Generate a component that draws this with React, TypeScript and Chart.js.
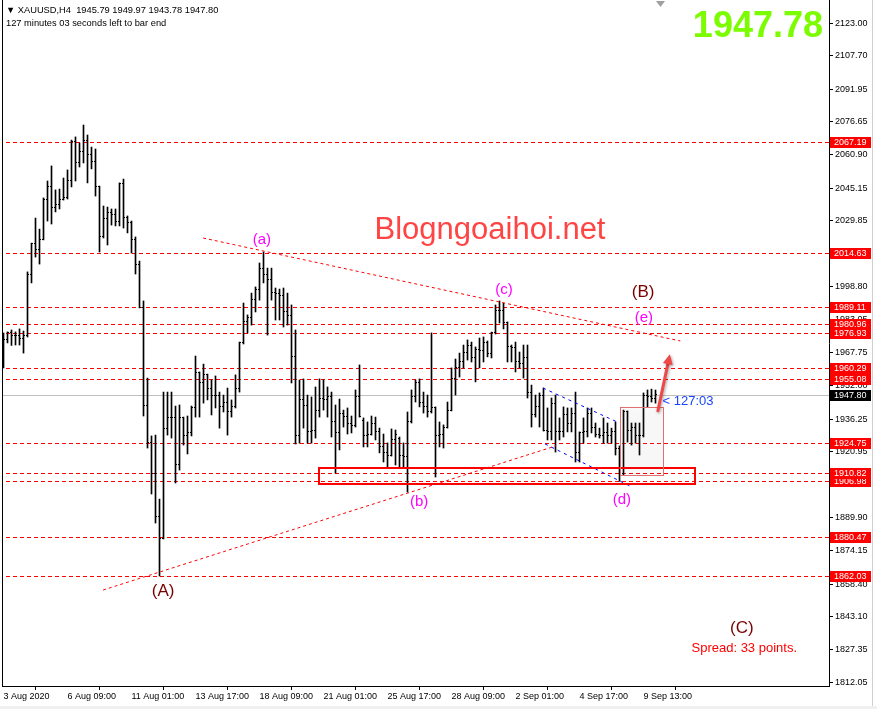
import React, { useEffect, useRef } from 'react';
import { Chart, registerables } from 'chart.js';

Chart.register(...registerables);

// ---- H4 bars (XAUUSD) ----
const opens = [
  1971.2, 1973.6, 1976.9, 1975.9, 1975.5, 1974.5, 1975.9, 2004.7, 2018.9, 2016.5,
  2021.2, 2040.1, 2045.8, 2036.3, 2037.3, 2040.1, 2041.0, 2048.6, 2067.0, 2057.1,
  2062.3, 2067.5, 2060.9, 2057.6, 2045.8, 2022.2, 2031.1, 2033.5, 2032.6, 2029.7,
  2047.2, 2031.6, 2029.2, 2021.2, 2009.0, 1989.1, 1942.9, 1925.0, 1910.8, 1890.1,
  1880.1, 1932.0, 1937.2, 1936.8, 1914.6, 1936.8, 1928.7, 1929.7, 1941.5, 1958.0,
  1953.3, 1957.1, 1950.9, 1947.6, 1947.6, 1942.0, 1944.3, 1939.6, 1942.0, 1950.9,
  1972.2, 1982.1, 1984.4, 1992.9, 1997.6, 2007.1, 2004.7, 2001.9, 1996.2, 1995.7,
  1994.8, 1986.8, 1984.9, 1965.6, 1928.3, 1945.3, 1942.9, 1930.2, 1931.1, 1940.1,
  1946.2, 1945.3, 1946.7, 1934.9, 1929.7, 1938.7, 1937.7, 1934.4, 1933.0, 1947.1,
  1935.4, 1928.7, 1929.2, 1934.4, 1930.2, 1923.1, 1920.7, 1919.3, 1926.4, 1927.3,
  1919.3, 1918.8, 1934.9, 1946.7, 1953.3, 1944.3, 1942.0, 1939.6, 1941.5, 1928.7,
  1929.2, 1932.5, 1940.5, 1955.6, 1960.4, 1963.2, 1967.9, 1971.2, 1965.1, 1968.9,
  1968.4, 1972.6, 1967.4, 1976.9, 1987.7, 1987.3, 1981.6, 1970.3, 1969.8, 1963.2,
  1962.7, 1965.1, 1948.6, 1938.2, 1942.0, 1947.6, 1931.1, 1930.2, 1943.8, 1930.2,
  1930.6, 1938.2, 1934.4, 1939.1, 1920.3, 1929.7, 1930.2, 1939.1, 1932.5, 1929.2,
  1928.7, 1929.7, 1928.7, 1930.2, 1922.6, 1910.8, 1939.6, 1931.1, 1932.5, 1928.3,
  1928.7, 1947.6, 1946.7, 1945.79,
];
const highs = [
  1976.9, 1977.4, 1978.3, 1977.4, 1978.8, 1977.8, 2005.7, 2019.3, 2031.1, 2025.9,
  2040.6, 2048.6, 2055.7, 2044.4, 2044.8, 2050.0, 2053.8, 2067.9, 2069.4, 2066.5,
  2075.0, 2070.3, 2064.6, 2063.7, 2046.2, 2036.8, 2036.3, 2035.4, 2035.4, 2047.7,
  2049.5, 2032.1, 2029.7, 2022.2, 2010.8, 1992.0, 1955.6, 1928.3, 1928.7, 1898.5,
  1949.0, 1949.0, 1949.0, 1942.4, 1942.9, 1937.2, 1937.7, 1942.4, 1966.0, 1958.5,
  1962.2, 1957.5, 1954.7, 1956.6, 1949.0, 1947.6, 1950.9, 1945.3, 1957.1, 1972.6,
  1991.0, 1985.4, 1995.7, 1998.6, 2009.9, 2015.1, 2007.5, 2007.5, 1998.1, 1997.6,
  1998.1, 1995.7, 1990.1, 1978.3, 1954.7, 1955.2, 1947.6, 1946.7, 1951.4, 1955.2,
  1954.7, 1951.4, 1949.0, 1942.9, 1945.7, 1940.5, 1941.5, 1937.7, 1950.0, 1961.8,
  1936.8, 1934.9, 1937.7, 1937.2, 1932.0, 1929.2, 1925.0, 1931.6, 1931.1, 1927.8,
  1925.0, 1939.6, 1950.0, 1954.7, 1955.2, 1949.0, 1947.6, 1976.9, 1942.0, 1934.9,
  1933.5, 1944.3, 1960.4, 1964.6, 1967.4, 1971.2, 1973.6, 1972.6, 1970.3, 1974.5,
  1975.0, 1973.1, 1977.3, 1990.1, 1992.0, 1991.0, 1982.1, 1971.2, 1972.6, 1967.9,
  1971.2, 1971.2, 1952.3, 1947.6, 1948.6, 1950.9, 1941.5, 1946.2, 1947.6, 1936.8,
  1942.0, 1941.5, 1941.5, 1949.0, 1930.2, 1936.8, 1941.5, 1941.5, 1934.4, 1932.0,
  1936.8, 1934.4, 1932.0, 1934.9, 1923.6, 1940.5, 1940.1, 1934.4, 1934.4, 1934.4,
  1948.6, 1950.0, 1950.4, 1949.97,
];
const lows = [
  1960.4, 1972.2, 1971.0, 1971.2, 1971.2, 1967.4, 1975.0, 2000.5, 2012.7, 2009.4,
  2020.8, 2029.7, 2028.3, 2034.0, 2035.4, 2039.6, 2040.1, 2045.8, 2048.6, 2055.2,
  2057.1, 2047.7, 2054.3, 2041.5, 2015.1, 2021.7, 2018.4, 2027.8, 2027.4, 2027.4,
  2026.4, 2024.1, 2014.6, 2004.7, 1988.7, 1937.7, 1922.6, 1900.9, 1887.2, 1862.2,
  1879.7, 1928.7, 1927.3, 1906.1, 1912.2, 1924.0, 1919.8, 1928.3, 1937.2, 1937.2,
  1943.8, 1945.3, 1938.2, 1941.5, 1932.0, 1939.6, 1928.7, 1937.2, 1941.5, 1949.0,
  1971.7, 1976.9, 1980.6, 1986.8, 1992.4, 2000.5, 1975.9, 1992.4, 1983.0, 1983.0,
  1979.7, 1980.6, 1953.3, 1924.5, 1924.9, 1932.0, 1924.9, 1924.9, 1927.3, 1937.2,
  1940.5, 1937.2, 1927.8, 1910.8, 1921.7, 1932.5, 1929.2, 1929.7, 1932.5, 1937.2,
  1923.1, 1923.1, 1928.7, 1926.4, 1920.3, 1916.0, 1913.6, 1918.8, 1914.6, 1913.6,
  1913.6, 1901.8, 1934.4, 1944.3, 1942.0, 1939.1, 1937.2, 1939.1, 1908.9, 1923.1,
  1922.6, 1932.0, 1940.1, 1947.6, 1956.1, 1960.4, 1964.1, 1963.2, 1953.8, 1960.4,
  1963.2, 1965.6, 1965.1, 1976.4, 1981.6, 1978.8, 1963.2, 1963.2, 1958.5, 1960.4,
  1955.6, 1946.2, 1932.5, 1937.2, 1932.5, 1930.6, 1926.4, 1926.4, 1920.7, 1926.4,
  1927.8, 1930.2, 1930.2, 1916.0, 1916.0, 1924.9, 1927.8, 1929.7, 1927.8, 1927.3,
  1924.9, 1924.9, 1924.9, 1919.3, 1906.9, 1909.9, 1925.4, 1924.0, 1924.9, 1919.3,
  1927.8, 1942.0, 1944.3, 1943.78,
];
const closes = [
  1973.6, 1976.9, 1975.9, 1975.5, 1974.5, 1975.9, 2004.7, 2018.9, 2016.5, 2021.2,
  2040.1, 2046.2, 2036.3, 2037.3, 2040.1, 2041.0, 2048.6, 2067.0, 2057.1, 2062.3,
  2067.5, 2060.9, 2057.6, 2045.8, 2022.2, 2031.1, 2033.5, 2032.6, 2029.7, 2047.2,
  2031.6, 2029.2, 2021.2, 2009.0, 1989.1, 1942.9, 1925.0, 1910.8, 1890.1, 1880.1,
  1932.0, 1937.2, 1936.8, 1914.6, 1936.8, 1928.7, 1929.7, 1941.5, 1958.0, 1953.3,
  1957.1, 1950.9, 1947.6, 1947.2, 1942.0, 1944.3, 1939.6, 1942.0, 1950.9, 1972.2,
  1982.1, 1984.4, 1992.9, 1997.6, 2007.1, 2004.7, 2001.9, 1996.2, 1995.7, 1994.8,
  1986.8, 1984.9, 1965.6, 1928.3, 1945.3, 1942.9, 1930.2, 1931.1, 1940.1, 1946.2,
  1945.3, 1946.7, 1934.9, 1929.7, 1938.7, 1937.7, 1934.4, 1933.0, 1947.1, 1937.7,
  1928.7, 1929.2, 1934.4, 1930.2, 1923.1, 1920.7, 1919.3, 1926.4, 1929.2, 1919.3,
  1918.8, 1934.9, 1946.7, 1953.3, 1944.3, 1942.0, 1939.6, 1941.5, 1928.7, 1929.2,
  1932.5, 1940.5, 1955.6, 1960.4, 1963.2, 1967.9, 1971.2, 1965.1, 1968.9, 1968.4,
  1972.6, 1967.4, 1976.9, 1987.7, 1987.3, 1981.6, 1970.3, 1969.8, 1963.2, 1962.7,
  1965.1, 1948.6, 1938.2, 1942.0, 1947.6, 1931.1, 1930.2, 1943.8, 1930.2, 1930.6,
  1938.2, 1934.4, 1939.1, 1920.3, 1929.7, 1930.2, 1939.1, 1932.5, 1929.2, 1928.7,
  1929.7, 1928.7, 1930.2, 1922.6, 1910.8, 1939.6, 1931.1, 1932.5, 1928.3, 1928.7,
  1947.6, 1946.7, 1945.8, 1947.80,
];

// ---- axes ----
const xTickIndex = [0, 16, 32, 48, 64, 80, 96, 112, 128, 144, 160];
const xTickLabels = [
  '3 Aug 2020', '6 Aug 09:00', '11 Aug 01:00', '13 Aug 17:00', '18 Aug 09:00',
  '21 Aug 01:00', '25 Aug 17:00', '28 Aug 09:00', '2 Sep 01:00', '4 Sep 17:00', '9 Sep 13:00',
];
const yTickValues = [
  2123.0, 2107.7, 2091.95, 2076.65, 2060.9, 2045.15, 2029.85, 2014.1, 1998.8, 1983.05,
  1967.75, 1952.0, 1936.25, 1920.95, 1905.2, 1889.9, 1874.15, 1858.4, 1843.1, 1827.35, 1812.05,
];
const yMin = 1810.31;
const yMax = 2134.0;
const xMin = -0.375;
const xMax = 206.375;

// ---- horizontal levels ----
const levelPrices = [
  2067.19, 2014.63, 1989.11, 1980.96, 1976.93, 1960.29, 1955.08, 1924.75, 1910.82, 1906.98,
  1880.47, 1862.03,
];
const bidPrice = 1947.8;

// ---- drawn objects (bar index, price) ----
const upperTrend = [[49.9, 2021.7], [169.2, 1973.1]];
const lowerTrend = [[24.9, 1855.6], [138.1, 1923.6]];
const blueUpper = [[134.9, 1950.9], [153.4, 1934.9]];
const blueLower = [[135.4, 1924.5], [156.6, 1904.7]];
const zoneBox = [[78.9, 1913.0], [172.9, 1905.6]];
const greyBox = [[154.1, 1942.1], [164.9, 1909.9]];
const arrowPts = [[163.6, 1940.2], [166.6, 1966.8]];

const waveTexts = ['(a)', '(b)', '(c)', '(d)', '(e)', '(A)', '(B)', '(C)'];
const waveIdx = [64.6, 103.9, 125.1, 154.6, 160.1, 39.9, 159.9, 184.6];
const wavePrice = [2020.8, 1897.1, 1997.2, 1898.1, 1984.0, 1855.1, 1996.2, 1837.7];
const waveMajor = [false, false, false, false, false, true, true, true];

const FONT = '"Liberation Sans", Arial, sans-serif';

function txt(ctx: CanvasRenderingContext2D, s: string, x: number, y: number, font: string, color: string, align: CanvasTextAlign = 'left', base: CanvasTextBaseline = 'middle') {
  ctx.font = font;
  ctx.fillStyle = color;
  ctx.textAlign = align;
  ctx.textBaseline = base;
  ctx.fillText(s, x, y);
}

const mt4Plugin = {
  id: 'mt4',
  beforeDatasetsDraw(chart: any) {
    const { ctx, chartArea: a, scales } = chart;
    const ys = scales.y;
    ctx.save();
    ctx.beginPath();
    ctx.rect(a.left, a.top, a.right - a.left, a.bottom - a.top);
    ctx.clip();
    ctx.lineWidth = 1;
    ctx.strokeStyle = '#c0c0c0';
    ctx.setLineDash([]);
    const y = Math.round(ys.getPixelForValue(bidPrice)) + 0.5;
    ctx.beginPath(); ctx.moveTo(a.left, y); ctx.lineTo(a.right, y); ctx.stroke();
    ctx.strokeStyle = '#ff0000';
    ctx.setLineDash([4, 3]);
    levelPrices.forEach((p) => {
      const yy = Math.round(ys.getPixelForValue(p)) + 0.5;
      ctx.beginPath(); ctx.moveTo(a.left + 4, yy); ctx.lineTo(a.right, yy); ctx.stroke();
    });
    ctx.restore();
  },
  afterDatasetsDraw(chart: any) {
    const { ctx, chartArea: a, scales } = chart;
    const xs = scales.x, ys = scales.y;
    const P = (pt: number[]) => [xs.getPixelForValue(pt[0]), ys.getPixelForValue(pt[1])];
    ctx.save();
    ctx.beginPath();
    ctx.rect(a.left, a.top, a.right - a.left, a.bottom - a.top);
    ctx.clip();
    // open / close ticks
    ctx.fillStyle = '#000';
    for (let i = 0; i < opens.length; i++) {
      const x0 = Math.floor(xs.getPixelForValue(i));
      ctx.fillRect(x0 - 1, Math.floor(ys.getPixelForValue(opens[i])), 1, 1);
      ctx.fillRect(x0 + 1, Math.floor(ys.getPixelForValue(closes[i])), 1, 1);
    }
    // trend lines
    const seg = (pts: number[][], color: string, dash: number[]) => {
      const [x1, y1] = P(pts[0]);
      const [x2, y2] = P(pts[1]);
      ctx.strokeStyle = color;
      ctx.lineWidth = 1;
      ctx.setLineDash(dash);
      ctx.beginPath(); ctx.moveTo(x1, y1); ctx.lineTo(x2, y2); ctx.stroke();
    };
    seg(upperTrend, '#ff0000', [3, 3]);
    seg(lowerTrend, '#ff0000', [3, 3]);
    seg(blueUpper, '#0000ff', [3, 4]);
    seg(blueLower, '#0000ff', [3, 4]);
    ctx.setLineDash([]);
    // support zone
    {
      const [x1, y1] = P(zoneBox[0]);
      const [x2, y2] = P(zoneBox[1]);
      ctx.strokeStyle = '#ff0000';
      ctx.lineWidth = 2;
      ctx.strokeRect(Math.round(x1), Math.round(y1), Math.round(x2 - x1), Math.round(y2 - y1));
    }
    // grey box
    {
      const [x1, y1] = P(greyBox[0]);
      const [x2, y2] = P(greyBox[1]);
      ctx.save();
      ctx.shadowColor = 'rgba(0,0,0,0.3)';
      ctx.shadowBlur = 3;
      ctx.shadowOffsetX = 1;
      ctx.shadowOffsetY = 1;
      ctx.fillStyle = 'rgba(150,150,150,0.05)';
      ctx.fillRect(x1, y1, x2 - x1, y2 - y1);
      ctx.restore();
      ctx.strokeStyle = '#e07070';
      ctx.lineWidth = 1;
      ctx.strokeRect(Math.round(x1) + 0.5, Math.round(y1) + 0.5, Math.round(x2 - x1), Math.round(y2 - y1));
    }
    // arrow
    {
      const [x1, y1] = P(arrowPts[0]);
      const [x2, y2] = P(arrowPts[1]);
      const ang = Math.atan2(y2 - y1, x2 - x1);
      const hl = 10, hw = 5;
      const bx = x2 - hl * Math.cos(ang), by = y2 - hl * Math.sin(ang);
      ctx.save();
      ctx.shadowColor = 'rgba(0,0,0,0.35)';
      ctx.shadowBlur = 3;
      ctx.shadowOffsetX = 1;
      ctx.shadowOffsetY = 1;
      ctx.strokeStyle = '#f04848';
      ctx.fillStyle = '#f04848';
      ctx.lineWidth = 3;
      ctx.lineCap = 'round';
      ctx.beginPath(); ctx.moveTo(x1, y1); ctx.lineTo(bx, by); ctx.stroke();
      ctx.beginPath();
      ctx.moveTo(x2, y2);
      ctx.lineTo(bx + hw * Math.sin(ang), by - hw * Math.cos(ang));
      ctx.lineTo(bx - hw * Math.sin(ang), by + hw * Math.cos(ang));
      ctx.closePath();
      ctx.fill();
      ctx.restore();
    }
    // wave labels
    waveTexts.forEach((t, i) => {
      const x = xs.getPixelForValue(waveIdx[i]);
      const y = ys.getPixelForValue(wavePrice[i]);
      if (waveMajor[i]) txt(ctx, t, x, y, `17px ${FONT}`, '#7a0000', 'center');
      else txt(ctx, t, x, y, `15px ${FONT}`, '#ff00ff', 'center');
    });
    // watermark & info texts
    txt(ctx, 'Blogngoaihoi.net', 490, 239, `31px ${FONT}`, '#ff4444', 'center', 'alphabetic');
    txt(ctx, '1947.78', 823, 37, `bold 36px ${FONT}`, '#7cfc00', 'right', 'alphabetic');
    txt(ctx, 'Spread: 33 points.', 797, 648, `13px ${FONT}`, '#ff0000', 'right');
    txt(ctx, '< 127:03', xs.getPixelForValue(opens.length - 1) + 7, ys.getPixelForValue(bidPrice) + 7, `13px ${FONT}`, '#1a44ff', 'left');
    ctx.restore();
  },
  afterDraw(chart: any) {
    const { ctx, chartArea: a, scales } = chart;
    const ys = scales.y;
    ctx.save();
    // price boxes on the axis
    const box = (p: number, bg: string) => {
      const y = Math.round(ys.getPixelForValue(p));
      ctx.fillStyle = bg;
      ctx.fillRect(a.right + 1, y - 5, 41, 11);
      txt(ctx, p.toFixed(2), a.right + 5, y + 0.5, `9px ${FONT}`, '#ffffff', 'left');
    };
    [...levelPrices].sort((m, n) => m - n).forEach((p) => box(p, '#ff0000'));
    box(bidPrice, '#000000');
    // header
    txt(ctx, '\u25BC XAUUSD,H4  1945.79 1949.97 1943.78 1947.80', 6, 10, `9.3px ${FONT}`, '#000', 'left');
    txt(ctx, '127 minutes 03 seconds left to bar end', 6, 23, `9.3px ${FONT}`, '#000', 'left');
    // left frame
    ctx.fillStyle = '#000';
    ctx.fillRect(2, 0, 1, a.bottom + 1);
    // chart-shift marker
    ctx.fillStyle = '#a0a0a0';
    ctx.beginPath();
    ctx.moveTo(656, 1); ctx.lineTo(665, 1); ctx.lineTo(660.5, 7); ctx.closePath(); ctx.fill();
    // window edges
    ctx.fillStyle = '#d0d0d0';
    ctx.fillRect(872, 0, 1, 709);
    ctx.fillStyle = '#f0f0f0';
    ctx.fillRect(0, 706, 877, 3);
    ctx.restore();
  },
};

export default function App() {
  const ref = useRef<HTMLCanvasElement>(null);
  useEffect(() => {
    const canvas = ref.current!;
    const chart = new Chart(canvas, {
      type: 'bar',
      data: {
        datasets: [
          {
            data: highs.map((h, i) => ({ x: i, y: [lows[i], h] })) as any,
            backgroundColor: '#000000',
            borderWidth: 0,
            barThickness: 1,
            grouped: false,
          } as any,
        ],
      },
      options: {
        animation: false,
        responsive: false,
        devicePixelRatio: 1,
        events: [],
        layout: { padding: { left: 2, top: 0, right: 0, bottom: 0 } },
        plugins: { legend: { display: false }, tooltip: { enabled: false } },
        scales: {
          x: {
            type: 'linear',
            min: xMin,
            max: xMax,
            offset: false,
            afterBuildTicks: (s: any) => { s.ticks = xTickIndex.map((v) => ({ value: v })); },
            afterFit: (s: any) => { s.height = 23; s.paddingLeft = 0; s.paddingRight = 0; },
            ticks: {
              callback: (_v: any, i: number) => xTickLabels[i],
              align: 'start',
              maxRotation: 0,
              minRotation: 0,
              autoSkip: false,
              padding: 1,
              color: '#000',
              font: { family: FONT, size: 9 },
            },
            grid: { drawOnChartArea: false, drawTicks: true, tickLength: 4, color: '#000' },
            border: { display: true, color: '#000', width: 1 },
          },
          y: {
            type: 'linear',
            position: 'right',
            min: yMin,
            max: yMax,
            afterBuildTicks: (s: any) => { s.ticks = yTickValues.map((v) => ({ value: v })); },
            afterFit: (s: any) => { s.width = 48; s.paddingTop = 0; s.paddingBottom = 0; },
            ticks: {
              callback: (v: any) => Number(v).toFixed(2),
              autoSkip: false,
              padding: 2,
              color: '#000',
              font: { family: FONT, size: 9 },
            },
            grid: { drawOnChartArea: false, drawTicks: true, tickLength: 4, color: '#000' },
            border: { display: true, color: '#000', width: 1 },
          },
        },
      } as any,
      plugins: [mt4Plugin],
    });
    return () => chart.destroy();
  }, []);
  return (
    <div style={{ position: 'absolute', left: 0, top: 0, width: 877, height: 709, background: '#fff' }}>
      <canvas ref={ref} width={877} height={709} style={{ display: 'block', width: 877, height: 709 }} />
    </div>
  );
}
